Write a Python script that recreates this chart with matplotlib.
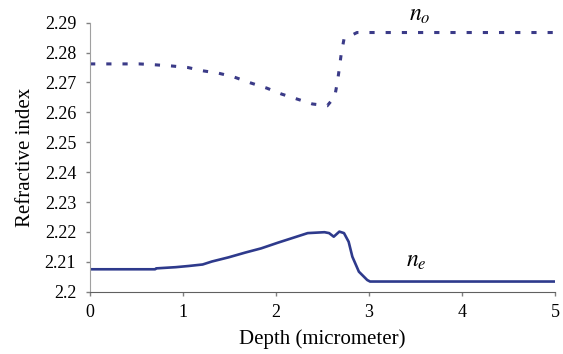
import matplotlib
matplotlib.use('Agg')
import matplotlib.pyplot as plt

# ordinary index n_o (dotted)
depth_o = [0.0, 0.2, 0.36, 0.53, 0.70, 0.88, 1.05, 1.21, 1.38, 1.54, 1.72, 1.90,
           2.06, 2.23, 2.39, 2.55, 2.63, 2.66, 2.68, 2.70, 2.73, 2.87, 3.5, 4.0, 4.5, 5.0]
n_o = [2.2762, 2.2762, 2.2762, 2.2762, 2.2759, 2.2755, 2.2750, 2.2739, 2.2731, 2.2719,
       2.2699, 2.2681, 2.2661, 2.2644, 2.2628, 2.2622, 2.2652, 2.2703, 2.2747, 2.2795,
       2.2845, 2.2867, 2.2867, 2.2867, 2.2867, 2.2867]

# extraordinary index n_e (solid)
depth_e = [0.0, 0.70, 0.71, 0.92, 1.06, 1.21, 1.31, 1.49, 1.67, 1.84, 2.02, 2.20,
           2.34, 2.52, 2.57, 2.62, 2.68, 2.73, 2.78, 2.82, 2.89, 2.98, 3.01, 4.0, 5.0]
n_e = [2.2075, 2.2075, 2.2078, 2.2082, 2.2086, 2.2091, 2.2101, 2.2115, 2.2131, 2.2145,
       2.2164, 2.2182, 2.2196, 2.2199, 2.2196, 2.2184, 2.2201, 2.2196, 2.2167, 2.2117,
       2.2067, 2.2039, 2.2034, 2.2034, 2.2034]

y_ticks = [2.2, 2.21, 2.22, 2.23, 2.24, 2.25, 2.26, 2.27, 2.28, 2.29]
y_labels = ['2.2', '2.21', '2.22', '2.23', '2.24', '2.25', '2.26', '2.27', '2.28', '2.29']
x_ticks = [0, 1, 2, 3, 4, 5]

plt.rcParams['font.family'] = ['Liberation Serif', 'DejaVu Serif']
plt.rcParams['mathtext.fontset'] = 'stix'

fig = plt.figure(figsize=(5.63, 3.54), dpi=100)
ax = fig.add_axes([0.160, 0.176, 0.826, 0.760])

ax.plot(depth_e, n_e, color='#2e3a8c', lw=1.9, solid_joinstyle='round')
ax.plot(depth_o, n_o, color='#3b3b88', lw=2.2, linestyle=(0, (1.7, 3.6)),
        dash_capstyle='butt')

ax.set_xlim(0, 5)
ax.set_ylim(2.2, 2.29)
ax.set_xticks(x_ticks)
ax.set_yticks(y_ticks)
ax.set_yticklabels(y_labels)
ax.tick_params(labelsize=13, length=3, width=1, color='#808080', direction='out')
ax.tick_params(axis='y', pad=7)
ax.tick_params(axis='x', pad=6)

for s in ['top', 'right']:
    ax.spines[s].set_visible(False)
ax.spines['left'].set_color('#a0a0a0')
ax.spines['bottom'].set_color('#606060')

ax.set_xlabel('Depth (micrometer)', fontsize=15, labelpad=6)
ax.set_ylabel('Refractive index', fontsize=15, labelpad=7)

ax.text(3.55, 2.2925, r'$n_o$', fontsize=17, ha='center', va='center', clip_on=False)
ax.text(3.51, 2.2101, r'$n_e$', fontsize=17, ha='center', va='center')

plt.savefig('out.png', dpi=100)
